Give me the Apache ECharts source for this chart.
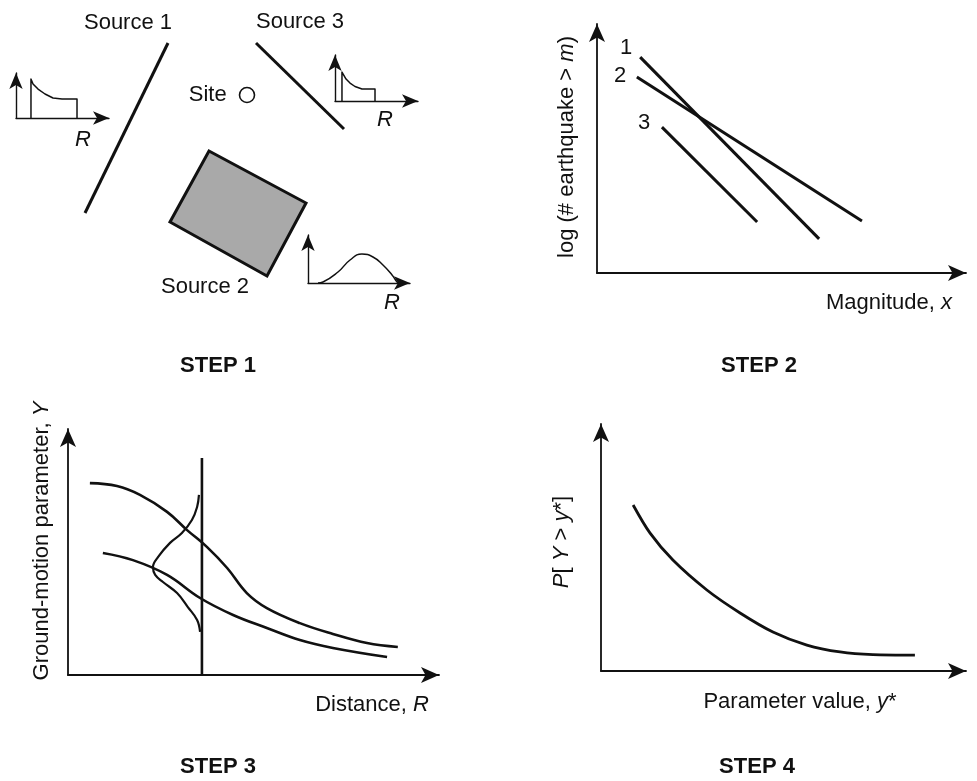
<!DOCTYPE html>
<html><head><meta charset="utf-8">
<script src="https://cdn.jsdelivr.net/npm/echarts@6/dist/echarts.min.js"></script>
<style>html,body{margin:0;padding:0;background:#fff}#c{width:977px;height:781px}</style>
</head><body><div id="c"></div>
<script>
// ---------- STEP 1: source map (map units) ----------
const source1Trace = [[8.8, 23.7], [0.5, 6.7]];
const source3Trace = [[17.6, 23.7], [26.4, 15.1]];
const siteLocation = [[16.7, 18.5]];
const source2Polygon = [[12.9, 12.9], [22.6, 7.7], [18.7, 0.4], [9.0, 5.8]];
// distance distributions (R, density)
const distSource1 = [[1.61, 0], [1.61, 8.67], [1.83, 7.56], [2.37, 6.44], [3.12, 5.33], [3.98, 4.44], [4.95, 4.22], [6.56, 4.22], [6.56, 0]];
const distSource3 = [[0.84, 0], [0.84, 6.30], [1.33, 4.78], [1.81, 3.91], [2.41, 3.15], [3.25, 2.61], [4.82, 2.61], [4.82, 0]];
const distSource2 = [[0.98, 0], [1.47, 0.21], [2.94, 2.29], [4.12, 4.79], [5.29, 6.04], [6.37, 5.42], [7.35, 3.75], [8.24, 1.67], [8.73, 0.21], [8.92, 0]];
// ---------- STEP 2: recurrence relations (magnitude, log N) ----------
const recurrence1 = [[1.17, 8.67], [6.02, 1.37]];
const recurrence2 = [[1.08, 7.87], [7.18, 2.09]];
const recurrence3 = [[1.76, 5.86], [4.34, 2.05]];
const recurrenceNames = ['1', '2', '3'];
// ---------- STEP 3: attenuation (distance, ground motion) ----------
const attenuationUpper = [[0.59, 7.80], [1.32, 7.68], [1.94, 7.32], [2.67, 6.63], [3.21, 5.89], [3.75, 5.20], [4.29, 4.35], [4.82, 3.33], [5.36, 2.72], [6.25, 2.11], [7.14, 1.67], [8.06, 1.30], [8.89, 1.14]];
const attenuationLower = [[0.94, 4.96], [1.75, 4.67], [2.67, 4.07], [3.56, 3.13], [4.45, 2.44], [5.36, 1.91], [6.25, 1.42], [7.14, 1.10], [8.60, 0.73]];
const scatterDistribution = [[3.53, 7.32], [3.48, 6.83], [3.34, 6.30], [3.07, 5.77], [2.75, 5.37], [2.43, 4.80], [2.29, 4.39], [2.35, 4.07], [2.56, 3.78], [2.94, 3.33], [3.23, 2.76], [3.48, 2.24], [3.56, 1.75]];
const siteDistance = [[3.61, 0], [3.61, 8.82]];
// ---------- STEP 4: hazard curve (y*, P) ----------
const hazardCurve = [[0.88, 6.72], [1.34, 5.59], [1.97, 4.49], [2.90, 3.28], [3.81, 2.35], [4.71, 1.58], [5.64, 1.05], [6.55, 0.77], [7.45, 0.66], [8.60, 0.64]];
// ---------- text ----------
const stepTitles = ['STEP 1', 'STEP 2', 'STEP 3', 'STEP 4'];
const sourceNames = ['Source 1', 'Source 2', 'Source 3'];
const siteName = 'Site';

const FF = '"Liberation Sans", Arial, Helvetica, sans-serif';
const INK = '#111';

const chart = echarts.init(document.getElementById('c'), null, {renderer: 'canvas'});

function hiddenAxis(gi, max) {
  return {type: 'value', gridIndex: gi, min: 0, max: max, show: false};
}
function arrowAxis(gi, size, w) {
  return {
    type: 'value', gridIndex: gi, min: 0, max: 10,
    axisLine: {show: true, onZero: false, symbol: ['none', 'arrow'], symbolSize: size, lineStyle: {color: INK, width: w}},
    axisTick: {show: false}, axisLabel: {show: false}, splitLine: {show: false}
  };
}
function line(gi, data, width, smooth) {
  return {
    type: 'line', xAxisIndex: gi, yAxisIndex: gi, data: data,
    showSymbol: false, symbol: 'none', smooth: smooth || false,
    lineStyle: {color: INK, width: width, cap: 'butt', join: 'round'},
    silent: true, animation: false, clip: false
  };
}
const grids = [
  {left: 80, top: 40, width: 280, height: 240},   // 0 map
  {left: 16, top: 73, width: 93, height: 45},     // 1 inset source 1
  {left: 335, top: 55, width: 83, height: 46},    // 2 inset source 3
  {left: 308, top: 235, width: 102, height: 48},  // 3 inset source 2
  {left: 597, top: 24, width: 369, height: 249},  // 4 step 2
  {left: 68, top: 429, width: 371, height: 246},  // 5 step 3
  {left: 601, top: 424, width: 365, height: 247}  // 6 step 4
];
const small = [10, 16], big = [12, 18];
const xAxes = [hiddenAxis(0, 28), arrowAxis(1, small, 1.4), arrowAxis(2, small, 1.4), arrowAxis(3, small, 1.4), arrowAxis(4, big, 1.8), arrowAxis(5, big, 1.8), arrowAxis(6, big, 1.8)];
const yAxes = [hiddenAxis(0, 24), arrowAxis(1, small, 1.4), arrowAxis(2, small, 1.4), arrowAxis(3, small, 1.4), arrowAxis(4, big, 1.8), arrowAxis(5, big, 1.8), arrowAxis(6, big, 1.8)];

const series = [
  {
    type: 'custom', xAxisIndex: 0, yAxisIndex: 0, silent: true, animation: false,
    data: [source2Polygon.flat()],
    renderItem: function (params, api) {
      const pts = [];
      for (let i = 0; i < 4; i++) pts.push(api.coord([api.value(2 * i), api.value(2 * i + 1)]));
      return {type: 'polygon', shape: {points: pts}, style: {fill: '#a9a9a9', stroke: INK, lineWidth: 3, lineJoin: 'miter'}};
    }
  },
  line(0, source1Trace, 3),
  line(0, source3Trace, 3),
  {
    type: 'scatter', xAxisIndex: 0, yAxisIndex: 0, data: siteLocation, silent: true, animation: false,
    symbol: 'circle', symbolSize: 15,
    itemStyle: {color: '#fff', borderColor: INK, borderWidth: 1.6, opacity: 1},
    label: {show: true, position: 'left', distance: 12, formatter: siteName, color: INK, opacity: 1, fontSize: 22, fontFamily: FF}
  },
  line(1, distSource1, 1.5),
  line(2, distSource3, 1.5),
  line(3, distSource2, 1.5, 0.5),
  line(4, recurrence1, 3),
  line(4, recurrence2, 3),
  line(4, recurrence3, 3),
  line(5, attenuationUpper, 2.6, 0.4),
  line(5, attenuationLower, 2.6, 0.4),
  line(5, scatterDistribution, 2.2, 0.4),
  line(5, siteDistance, 2.6),
  line(6, hazardCurve, 2.8, 0.3)
];

const richBase = {
  n: {fontSize: 22, fontFamily: FF, fill: INK},
  i: {fontSize: 22, fontFamily: FF, fill: INK, fontStyle: 'italic'}
};
function txt(x, y, text, opt) {
  opt = opt || {};
  return {
    type: 'text', x: x, y: y, rotation: opt.rot || 0, silent: true, z: 100,
    style: {
      text: text, align: 'center', verticalAlign: 'middle', fill: INK,
      fontSize: opt.size || 22, fontFamily: FF, fontWeight: opt.bold ? 'bold' : 'normal',
      fontStyle: opt.italic ? 'italic' : 'normal', rich: richBase
    }
  };
}
const graphic = [
  txt(128, 23, sourceNames[0]),
  txt(300, 22, sourceNames[2]),
  txt(205, 287, sourceNames[1]),
  txt(83, 140, 'R', {italic: true}),
  txt(385, 120, 'R', {italic: true}),
  txt(392, 303, 'R', {italic: true}),
  txt(626, 48, recurrenceNames[0]),
  txt(620, 76, recurrenceNames[1]),
  txt(644, 123, recurrenceNames[2]),
  txt(567, 147, '{n|log (# earthquake > }{i|m}{n|)}', {rot: Math.PI / 2}),
  txt(889, 303, '{n|Magnitude, }{i|x}'),
  txt(42, 541, '{n|Ground-motion parameter, }{i|Y}', {rot: Math.PI / 2}),
  txt(372, 705, '{n|Distance, }{i|R}'),
  txt(562, 542, '{i|P}{n|[ }{i|Y}{n| > }{i|y}{n|*]}', {rot: Math.PI / 2}),
  txt(800, 702, '{n|Parameter value, }{i|y}{n|*}'),
  txt(218, 366, stepTitles[0], {bold: true}),
  txt(759, 366, stepTitles[1], {bold: true}),
  txt(218, 767, stepTitles[2], {bold: true}),
  txt(757, 767, stepTitles[3], {bold: true})
];

chart.setOption({
  backgroundColor: '#fff',
  animation: false,
  grid: grids,
  xAxis: xAxes,
  yAxis: yAxes,
  series: series,
  graphic: graphic
});
</script></body></html>
